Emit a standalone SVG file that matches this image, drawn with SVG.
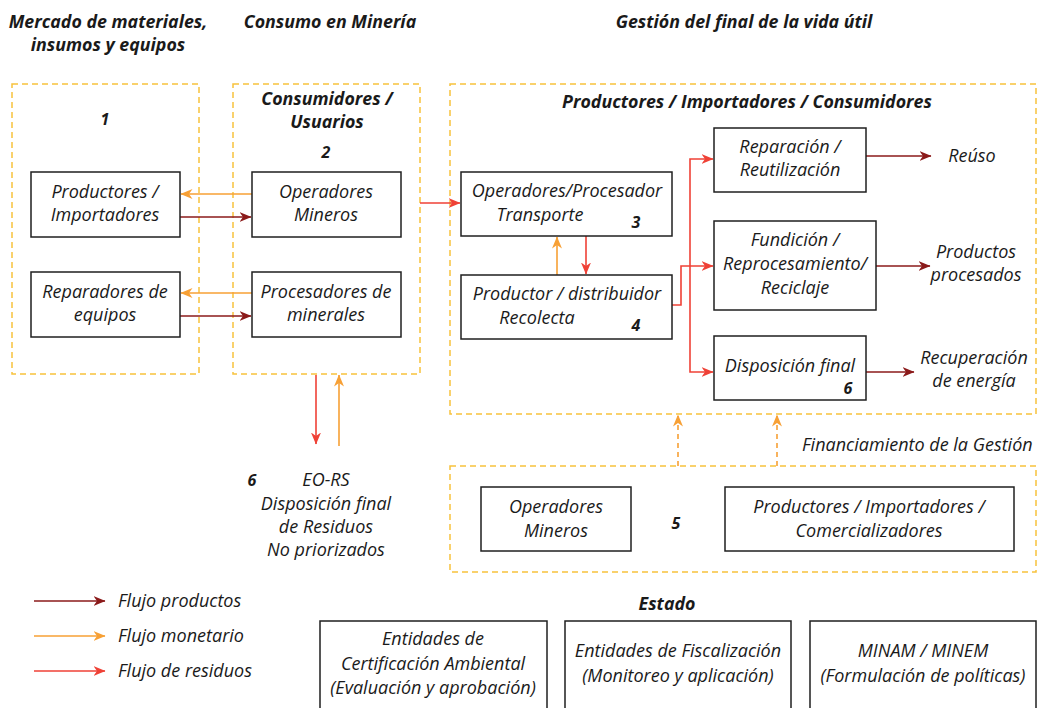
<svg xmlns="http://www.w3.org/2000/svg" width="1041" height="708" viewBox="0 0 1041 708">
  <style>
    text { font-family: "Open Sans", "Noto Sans", "Liberation Sans", sans-serif; font-style: italic; fill: #1a1a1a; }
    .t { font-size: 18px; text-anchor: middle; }
    .tl { font-size: 18px; text-anchor: start; }
    .h { font-size: 17.8px; font-weight: bold; text-anchor: middle; }
    .n { font-size: 16px; font-weight: bold; text-anchor: middle; }
    .box { fill: #ffffff; stroke: #1f1f1f; stroke-width: 1.5; }
    .zone { fill: none; stroke: #F8C23C; stroke-width: 1.5; stroke-dasharray: 6 4; }
    .prod { fill: none; stroke: #8B1A1A; stroke-width: 1.6; }
    .mon { fill: none; stroke: #F7A035; stroke-width: 1.6; }
    .res { fill: none; stroke: #EF4136; stroke-width: 1.6; }
    .fin { fill: none; stroke: #F7A035; stroke-width: 1.6; stroke-dasharray: 5 4; }
  </style>
  <defs>
    <marker id="aProd" viewBox="0 0 12 10" refX="11.5" refY="5" markerWidth="12" markerHeight="10" markerUnits="userSpaceOnUse" orient="auto">
      <path d="M0,0 L12,5 L0,10 L3.5,5 z" fill="#8B1A1A"/>
    </marker>
    <marker id="aMon" viewBox="0 0 12 10" refX="11.5" refY="5" markerWidth="12" markerHeight="10" markerUnits="userSpaceOnUse" orient="auto">
      <path d="M0,0 L12,5 L0,10 L3.5,5 z" fill="#F7A035"/>
    </marker>
    <marker id="aRes" viewBox="0 0 12 10" refX="11.5" refY="5" markerWidth="12" markerHeight="10" markerUnits="userSpaceOnUse" orient="auto">
      <path d="M0,0 L12,5 L0,10 L3.5,5 z" fill="#EF4136"/>
    </marker>
  </defs>

  <rect width="1041" height="708" fill="#ffffff"/>

  <!-- Column headings -->
  <g id="headings">
    <text class="h" x="108" y="28">Mercado de materiales,</text>
    <text class="h" x="108" y="51">insumos y equipos</text>
    <text class="h" x="330" y="28">Consumo en Minería</text>
    <text class="h" x="744" y="28">Gestión del final de la vida útil</text>
  </g>

  <!-- Dashed zones -->
  <g id="zones">
    <rect class="zone" x="12" y="84" width="187" height="290"/>
    <rect class="zone" x="233" y="84" width="187" height="290"/>
    <rect class="zone" x="450" y="84" width="586" height="330"/>
    <rect class="zone" x="450" y="466" width="586" height="106"/>
  </g>

  <g id="zone-labels">
    <text class="n" x="105" y="125">1</text>
    <text class="h" x="327" y="105">Consumidores /</text>
    <text class="h" x="327" y="128">Usuarios</text>
    <text class="n" x="326" y="158">2</text>
    <text class="h" x="747" y="108">Productores / Importadores / Consumidores</text>
    <text class="n" x="676" y="529">5</text>
    <text class="tl" x="802" y="451">Financiamiento de la Gestión</text>
  </g>

  <!-- Connectors -->
  <g id="connectors">
    <!-- market <-> mining consumers -->
    <line class="mon" x1="252" y1="194" x2="181" y2="194" marker-end="url(#aMon)"/>
    <line class="prod" x1="180" y1="217" x2="251" y2="217" marker-end="url(#aProd)"/>
    <line class="mon" x1="252" y1="293" x2="181" y2="293" marker-end="url(#aMon)"/>
    <line class="prod" x1="180" y1="316" x2="251" y2="316" marker-end="url(#aProd)"/>
    <!-- consumers -> end-of-life management -->
    <line class="res" x1="420" y1="203" x2="460" y2="203" marker-end="url(#aRes)"/>
    <!-- consumers <-> EO-RS -->
    <line class="res" x1="316" y1="375" x2="316" y2="444" marker-end="url(#aRes)"/>
    <line class="mon" x1="339" y1="446" x2="339" y2="375" marker-end="url(#aMon)"/>
    <!-- 3 <-> 4 -->
    <line class="mon" x1="557" y1="275" x2="557" y2="237" marker-end="url(#aMon)"/>
    <line class="res" x1="586" y1="236" x2="586" y2="274" marker-end="url(#aRes)"/>
    <!-- 4 -> treatment routes -->
    <path class="res" d="M672,305 H681 V266 H713" marker-end="url(#aRes)"/>
    <path class="res" d="M690,266 V159 H713" marker-end="url(#aRes)"/>
    <path class="res" d="M690,266 V372 H713" marker-end="url(#aRes)"/>
    <!-- treatment outputs -->
    <line class="prod" x1="866" y1="156" x2="931" y2="156" marker-end="url(#aProd)"/>
    <line class="prod" x1="876" y1="266" x2="930" y2="266" marker-end="url(#aProd)"/>
    <line class="prod" x1="866" y1="372" x2="914" y2="372" marker-end="url(#aProd)"/>
    <!-- financing -->
    <line class="fin" x1="678" y1="466" x2="678" y2="415" marker-end="url(#aMon)"/>
    <line class="fin" x1="777" y1="466" x2="777" y2="415" marker-end="url(#aMon)"/>
  </g>

  <!-- Nodes -->
  <g id="productores-importadores">
    <rect class="box" x="31" y="172" width="149" height="65"/>
    <text class="t" x="105" y="198">Productores /</text>
    <text class="t" x="105" y="221">Importadores</text>
  </g>
  <g id="reparadores">
    <rect class="box" x="31" y="272" width="149" height="65"/>
    <text class="t" x="105" y="298">Reparadores de</text>
    <text class="t" x="105" y="321">equipos</text>
  </g>
  <g id="operadores-mineros">
    <rect class="box" x="252" y="172" width="149" height="65"/>
    <text class="t" x="326" y="198">Operadores</text>
    <text class="t" x="326" y="221">Mineros</text>
  </g>
  <g id="procesadores-minerales">
    <rect class="box" x="252" y="272" width="149" height="65"/>
    <text class="t" x="326" y="298">Procesadores de</text>
    <text class="t" x="326" y="321">minerales</text>
  </g>
  <g id="operadores-procesador">
    <rect class="box" x="461" y="172" width="211" height="64"/>
    <text class="t" x="567" y="197">Operadores/Procesador</text>
    <text class="t" x="540" y="221">Transporte</text>
    <text class="n" x="636" y="228">3</text>
  </g>
  <g id="productor-distribuidor">
    <rect class="box" x="461" y="275" width="211" height="64"/>
    <text class="t" x="567" y="300">Productor / distribuidor</text>
    <text class="t" x="537" y="324">Recolecta</text>
    <text class="n" x="636" y="331">4</text>
  </g>
  <g id="reparacion">
    <rect class="box" x="714" y="128" width="152" height="64"/>
    <text class="t" x="790" y="153">Reparación /</text>
    <text class="t" x="790" y="176">Reutilización</text>
  </g>
  <g id="fundicion">
    <rect class="box" x="714" y="221" width="162" height="89"/>
    <text class="t" x="795" y="246">Fundición /</text>
    <text class="t" x="795" y="270">Reprocesamiento/</text>
    <text class="t" x="795" y="294">Reciclaje</text>
  </g>
  <g id="disposicion-final">
    <rect class="box" x="714" y="336" width="152" height="64"/>
    <text class="t" x="790" y="372">Disposición final</text>
    <text class="n" x="848" y="394">6</text>
  </g>
  <g id="salidas">
    <text class="t" x="972" y="162">Reúso</text>
    <text class="t" x="976" y="258">Productos</text>
    <text class="t" x="976" y="281">procesados</text>
    <text class="t" x="974" y="364">Recuperación</text>
    <text class="t" x="974" y="387">de energía</text>
  </g>
  <g id="eo-rs">
    <text class="n" x="252" y="486">6</text>
    <text class="t" x="326" y="486">EO-RS</text>
    <text class="t" x="326" y="510">Disposición final</text>
    <text class="t" x="326" y="533">de Residuos</text>
    <text class="t" x="326" y="556">No priorizados</text>
  </g>
  <g id="financiadores-operadores">
    <rect class="box" x="481" y="487" width="150" height="64"/>
    <text class="t" x="556" y="513">Operadores</text>
    <text class="t" x="556" y="537">Mineros</text>
  </g>
  <g id="financiadores-productores">
    <rect class="box" x="725" y="487" width="289" height="64"/>
    <text class="t" x="869" y="513">Productores / Importadores /</text>
    <text class="t" x="869" y="537">Comercializadores</text>
  </g>

  <!-- Legend -->
  <g id="legend">
    <line class="prod" x1="34" y1="601" x2="105" y2="601" marker-end="url(#aProd)"/>
    <text class="tl" x="118" y="607">Flujo productos</text>
    <line class="mon" x1="34" y1="636" x2="105" y2="636" marker-end="url(#aMon)"/>
    <text class="tl" x="118" y="642">Flujo monetario</text>
    <line class="res" x1="34" y1="671" x2="105" y2="671" marker-end="url(#aRes)"/>
    <text class="tl" x="118" y="677">Flujo de residuos</text>
  </g>

  <!-- State bodies -->
  <g id="estado">
    <text class="h" x="667" y="610">Estado</text>
  </g>
  <g id="certificacion">
    <rect class="box" x="320" y="621" width="227" height="95"/>
    <text class="t" x="433" y="645">Entidades de</text>
    <text class="t" x="433" y="670">Certificación Ambiental</text>
    <text class="t" x="433" y="694">(Evaluación y aprobación)</text>
  </g>
  <g id="fiscalizacion">
    <rect class="box" x="565" y="621" width="226" height="95"/>
    <text class="t" x="678" y="657">Entidades de Fiscalización</text>
    <text class="t" x="678" y="682">(Monitoreo y aplicación)</text>
  </g>
  <g id="minam-minem">
    <rect class="box" x="810" y="621" width="226" height="95"/>
    <text class="t" x="923" y="657">MINAM / MINEM</text>
    <text class="t" x="923" y="682">(Formulación de políticas)</text>
  </g>
</svg>
